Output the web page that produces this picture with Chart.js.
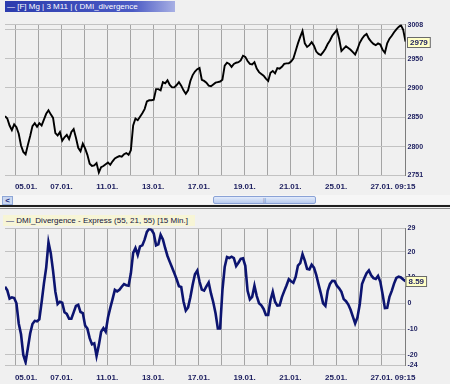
<!DOCTYPE html>
<html><head><meta charset="utf-8">
<script src="https://cdn.jsdelivr.net/npm/chart.js@4/dist/chart.umd.min.js"></script>
<style>
html,body{margin:0;padding:0;background:#f0f0f0;width:450px;height:384px;overflow:hidden;font-family:"Liberation Sans",Arial,sans-serif;}
canvas{position:absolute;left:0;}
#c1{top:0;}
#c2{top:209px;}
#hdr1{position:absolute;left:5px;top:1px;width:168px;height:11px;background:linear-gradient(to right,#2c3cae,#4a5ac4 75%,#a8b0e4);color:#fff;font-size:8px;line-height:11px;white-space:nowrap;overflow:hidden;padding-left:2px;}
#hdr2{position:absolute;left:3px;top:215px;width:189px;height:11px;background:#f7f5d6;color:#14143c;font-size:8px;line-height:11px;white-space:nowrap;padding-left:3px;}
#track{position:absolute;left:0;top:195px;width:450px;height:9px;background:#f6f6f6;}
#btn{position:absolute;left:2px;top:196px;width:9px;height:7px;background:#c9d7f1;border:1px solid #8ea6d6;color:#1c2c80;font-size:8px;line-height:7px;text-align:center;font-weight:bold;}
#thumb{position:absolute;left:213px;top:196px;width:101px;height:6px;background:linear-gradient(#e2ebfb,#b9cbef);border:1px solid #8aa2d6;border-radius:2px;color:#6a80b8;font-size:6px;line-height:6px;text-align:center;}
#sep{position:absolute;left:0;top:205px;width:450px;height:2px;background:#1e1e1e;}
#sep2{position:absolute;left:0;top:208px;width:450px;height:1px;background:#8a8a8a;}
</style></head>
<body>
<canvas id="c1" width="450" height="195"></canvas>
<canvas id="c2" width="450" height="175"></canvas>
<div id="track"></div><div id="btn">&lt;</div><div id="thumb">||</div>
<div id="sep"></div><div id="sep2"></div>
<div id="hdr1">— [F] Mg | 3 M11 | ( DMI_divergence</div>
<div id="hdr2"><span style="color:#0c1470">—</span> DMI_Divergence - Express (55, 21, 55) [15 Min.]</div>
<script>
// ---- data (15-min samples, 10 samples per trading day) ----
const DAY_LABELS = ['05.01.','06.01.','07.01.','10.01.','11.01.','12.01.','13.01.','14.01.','17.01.','18.01.','19.01.','20.01.','21.01.','24.01.','25.01.','26.01.','27.01.'];
const LAST_TIME = '09:15';
const PRICE = [
2852,2848,2836,2828,2838,2833,2822,2802,2791,2787,
2803,2818,2835,2840,2834,2840,2836,2846,2856,2862,
2855,2849,2823,2819,2825,2810,2816,2820,2813,2825,
2830,2815,2798,2792,2805,2797,2786,2771,2767,2768,
2772,2756,2765,2767,2770,2773,2769,2775,2780,2782,
2784,2783,2787,2789,2786,2794,2836,2848,2845,2851,
2857,2864,2877,2879,2879,2880,2898,2898,2896,2910,
2908,2913,2905,2901,2901,2905,2910,2904,2896,2890,
2896,2912,2922,2928,2932,2934,2914,2912,2909,2904,
2903,2906,2909,2910,2911,2914,2938,2943,2941,2936,
2941,2943,2944,2947,2955,2953,2946,2941,2940,2944,
2933,2927,2924,2921,2916,2912,2926,2929,2925,2934,
2933,2936,2941,2942,2942,2945,2950,2963,2976,2987,
2997,2976,2970,2973,2978,2972,2962,2958,2956,2961,
2967,2975,2981,2989,2994,2999,2984,2963,2967,2971,
2968,2965,2961,2957,2966,2977,2984,2989,2992,2984,
2979,2975,2973,2976,2974,2965,2960,2976,2984,2989,
2995,3000,3004,3007,2999,2979];
const DMI = [
6.4,5.0,1.8,2.3,2.0,0.0,-7.8,-12.0,-20.0,-22.8,
-17.3,-11.7,-8.0,-6.8,-7.0,-6.2,0.4,7.6,13.8,23.6,
19.4,12.5,4.5,-0.3,0.6,0.2,-3.5,-4.1,-6.0,-6.0,
-3.5,-1.0,-0.6,-3.4,-3.8,-8.6,-9.8,-13.5,-15.9,-15.5,
-20.4,-16.2,-11.0,-9.6,-11.0,-5.5,-1.8,1.6,5.2,4.6,
5.2,6.4,7.4,7.0,6.8,11.6,19.5,21.4,18.7,22.0,
22.4,24.6,27.6,28.8,28.4,27.0,22.4,22.8,26.5,24.7,
21.3,18.3,16.0,13.8,11.6,9.3,6.6,6.3,0.7,-2.8,
-1.6,2.3,7.2,11.2,12.6,8.4,5.3,4.9,6.5,8.0,
3.8,0.4,-3.9,-9.7,-9.7,5.0,14.0,17.9,17.5,18.0,
17.5,14.4,15.7,17.2,17.4,14.5,4.8,1.5,2.5,6.8,
2.8,0.0,-0.8,-2.2,-4.5,-4.5,1.2,4.4,0.6,-0.9,
-0.8,2.4,4.7,6.9,9.3,8.5,7.9,10.2,14.6,15.5,
19.0,16.5,13.3,13.1,14.9,13.8,11.0,7.3,3.8,0.0,
-1.0,4.8,7.5,8.7,8.6,6.8,5.8,4.4,1.6,0.8,
-0.5,-2.5,-5.2,-7.8,-5.5,-0.5,7.4,9.7,11.6,12.7,
10.8,9.7,9.4,10.6,8.3,3.5,-1.9,-1.8,2.5,4.8,
7.6,9.8,10.3,10.0,9.2,8.59];
const PRICE_TICKS = [2751,2800,2850,2900,2950,3008];
const PRICE_GRID  = [2800,2850,2900,2950,3000];
const DMI_TICKS = [-24,-20,-10,0,10,20,29];
const DMI_GRID  = [-20,-10,0,10,20];

// ---- layout constants ----
const SAMPLES_PER_DAY = 10;
const FIRST_DAY_AT = 4.68;   // sample position of first day boundary
const NAVY = '#1b1d5e';

function buildChart(canvas, values, cfg) {
  const last = values.length - 1;
  const lastVal = values[last];
  const gridVals = DAY_LABELS.map((d, k) => FIRST_DAY_AT + k * SAMPLES_PER_DAY);
  const labelIdx = DAY_LABELS.map((d, k) => k).filter(k => k % 2 === 0);
  const labelPos = labelIdx.map(k => FIRST_DAY_AT + k * SAMPLES_PER_DAY);
  labelPos[0] += 4.5;
  labelPos[labelPos.length - 1] += 4.8;
  const labelTxt = labelIdx.map(k => DAY_LABELS[k]);
  labelTxt[labelTxt.length - 1] += ' ' + LAST_TIME;
  const yTickVals = Array.from(new Set([...cfg.ticks, ...cfg.grid])).sort((a, b) => a - b);

  const valueBox = {
    id: 'valueBox',
    afterDraw(chart) {
      const ctx = chart.ctx, ys = chart.scales.y, ca = chart.chartArea;
      const py = ys.getPixelForValue(lastVal);
      const txt = cfg.fmt(lastVal);
      ctx.save();
      ctx.font = 'bold 8px "Liberation Sans", Arial, sans-serif';
      const w = ctx.measureText(txt).width + 5;
      const x = ca.right + cfg.boxDx, h = 10;
      ctx.fillStyle = '#ffffc6';
      ctx.fillRect(x, Math.round(py - h / 2) + 0.5, w, h);
      ctx.strokeStyle = '#6a6a6a';
      ctx.lineWidth = 1;
      ctx.strokeRect(x + 0.5, Math.round(py - h / 2) + 0.5, w, h);
      ctx.fillStyle = NAVY;
      ctx.textBaseline = 'middle';
      ctx.fillText(txt, x + 3, py + 1);
      ctx.restore();
    }
  };

  return new Chart(canvas, {
    type: 'line',
    data: {
      datasets: [{
        data: values.map((v, i) => ({ x: i, y: v })),
        borderColor: cfg.color, borderWidth: cfg.lw,
        pointRadius: 0, tension: 0, fill: false, xAxisID: 'x', yAxisID: 'y'
      }]
    },
    options: {
      responsive: false, animation: false, devicePixelRatio: 1,
      layout: { padding: { left: 5, top: cfg.top, right: 0, bottom: 0 } },
      plugins: { legend: { display: false }, tooltip: { enabled: false } },
      scales: {
        x: {
          type: 'linear', min: 0, max: last, position: 'bottom',
          afterBuildTicks: a => { a.ticks = gridVals.map(v => ({ value: v })); },
          afterFit: a => { a.height = 0; },
          ticks: { display: false },
          grid: { color: '#a4a4a4', drawTicks: false, lineWidth: 1 },
          border: { display: false }
        },
        xl: {
          type: 'linear', min: 0, max: last, position: 'bottom',
          afterBuildTicks: a => { a.ticks = labelPos.map(v => ({ value: v })); },
          afterFit: a => { a.height = cfg.xh; },
          ticks: {
            autoSkip: false, maxRotation: 0, padding: cfg.xpad, color: NAVY,
            font: { family: 'Liberation Sans', size: 8, weight: 'bold' },
            callback: (v, i) => labelTxt[i]
          },
          grid: { display: false, drawTicks: false },
          border: { display: false }
        },
        y: {
          type: 'linear', position: 'right', min: cfg.min, max: cfg.max,
          afterBuildTicks: a => { a.ticks = yTickVals.map(v => ({ value: v })); },
          afterFit: a => { a.width = 450 - 405.5; },
          ticks: {
            autoSkip: false, padding: 2, color: NAVY,
            font: { family: 'Liberation Sans', size: 7, weight: 'bold' },
            callback: v => cfg.ticks.includes(v) ? String(v) : ''
          },
          grid: { color: '#c2c2c2', drawTicks: false, lineWidth: 1 },
          border: { display: true, color: '#7c7c7c' }
        }
      }
    },
    plugins: [valueBox]
  });
}

buildChart(document.getElementById('c1'), PRICE, {
  min: 2751, max: 3008, ticks: PRICE_TICKS, grid: PRICE_GRID,
  color: '#000000', lw: 1.9, top: 24.6, xh: 19.6, xpad: 7,
  boxDx: 1.5, fmt: v => String(v)
});
buildChart(document.getElementById('c2'), DMI, {
  min: -24, max: 29, ticks: DMI_TICKS, grid: DMI_GRID,
  color: '#0c1470', lw: 2.6, top: 19.3, xh: 18.7, xpad: 8,
  boxDx: 0, fmt: v => v.toFixed(2)
});
</script>
</body></html>
